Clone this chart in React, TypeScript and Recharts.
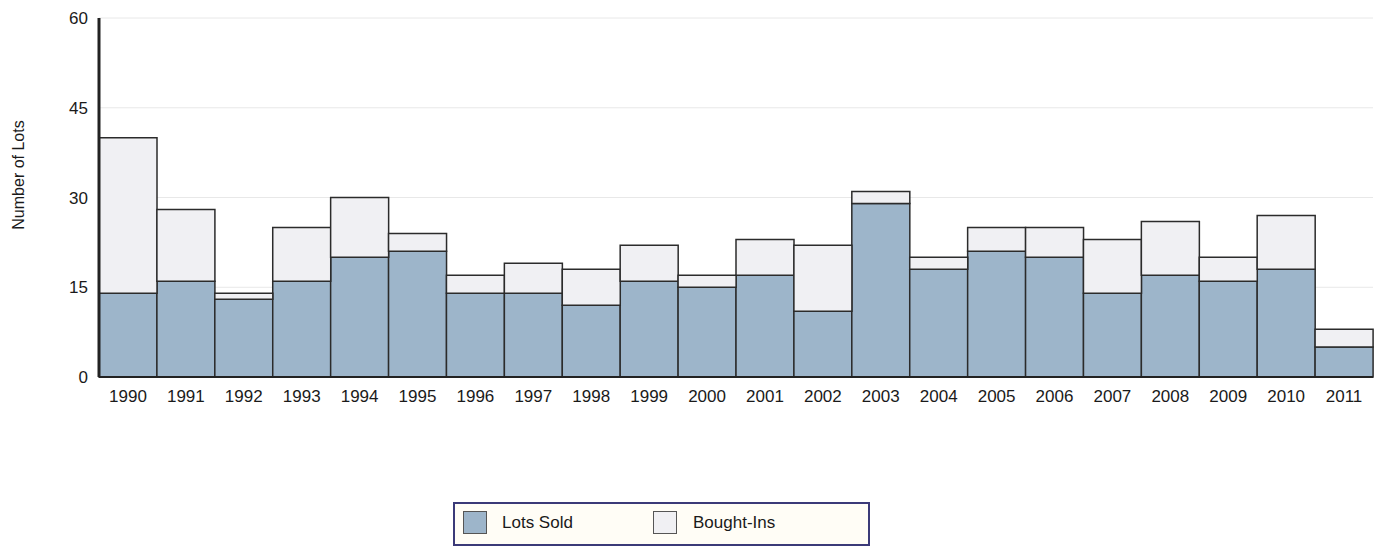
import React from 'react';
import { BarChart, Bar, XAxis, YAxis, CartesianGrid, Legend } from 'recharts';

const years = ['1990','1991','1992','1993','1994','1995','1996','1997','1998','1999','2000','2001','2002','2003','2004','2005','2006','2007','2008','2009','2010','2011'];
const lotsSold = [14,16,13,16,20,21,14,14,12,16,15,17,11,29,18,21,20,14,17,16,18,5];
const boughtIns = [26,12,1,9,10,3,3,5,6,6,2,6,11,2,2,4,5,9,9,4,9,3];
const yTicks = [0,15,30,45,60];

const SOLD_COLOR = '#9db5ca';
const BOUGHT_COLOR = '#f0f0f3';
const FONT = '"Liberation Sans", Arial, sans-serif';

const data = years.map((y, i) => ({ year: y, sold: lotsSold[i], bought: boughtIns[i] }));

const LegendBox = () => (
  <div style={{
    boxSizing: 'border-box', width: 417, height: 44, background: '#fffdf6',
    border: '2px solid #3b3a78', display: 'flex', alignItems: 'center',
    fontFamily: FONT, fontSize: 17, color: '#1a1a1a', position: 'relative'
  }}>
    <div style={{ position: 'absolute', left: 8, top: 7, width: 24, height: 23, boxSizing: 'border-box', background: SOLD_COLOR, border: '1px solid #555' }} />
    <div style={{ position: 'absolute', left: 47, top: 9, lineHeight: '20px' }}>Lots Sold</div>
    <div style={{ position: 'absolute', left: 198, top: 7, width: 24, height: 23, boxSizing: 'border-box', background: BOUGHT_COLOR, border: '1px solid #555' }} />
    <div style={{ position: 'absolute', left: 238, top: 9, lineHeight: '20px' }}>Bought-Ins</div>
  </div>
);

const YLabel = (props: any) => {
  return (
    <text x={10} y={167} transform="rotate(-90 10 167)" textAnchor="middle" dominantBaseline="central"
      fontFamily={FONT} fontSize={16} fill="#1a1a1a">Number of Lots</text>
  );
};

export default function App() {
  return (
    <div style={{ width: 1377, height: 540, position: 'relative', background: '#fff' }}>
      <BarChart width={1377} height={540} data={data} barCategoryGap={0}
        margin={{ top: 10, right: 12, left: 0, bottom: 141 }}>
        <CartesianGrid horizontal={true} vertical={false} stroke="#e8e8e8" strokeWidth={1} />
        <XAxis dataKey="year" height={30} tickLine={false} tickSize={0} tickMargin={13}
          axisLine={{ stroke: '#222', strokeWidth: 2 }}
          tick={{ fontFamily: FONT, fontSize: 17, fill: '#1a1a1a' }} interval={0} />
        <YAxis width={91} domain={[0, 60]} ticks={yTicks} tickLine={false} tickSize={0} tickMargin={11}
          axisLine={{ stroke: '#222', strokeWidth: 3 }}
          tick={{ fontFamily: FONT, fontSize: 17, fill: '#1a1a1a' }}
          label={<YLabel />} />
        <Legend verticalAlign="middle" layout="horizontal" content={<LegendBox />}
          wrapperStyle={{ position: 'absolute', left: 445, top: 494, width: 417, height: 44 }} />
        <Bar dataKey="sold" stackId="a" fill={SOLD_COLOR} stroke="#2b2b2b" strokeWidth={1.5} isAnimationActive={false} />
        <Bar dataKey="bought" stackId="a" fill={BOUGHT_COLOR} stroke="#2b2b2b" strokeWidth={1.5} isAnimationActive={false} />
      </BarChart>
    </div>
  );
}
